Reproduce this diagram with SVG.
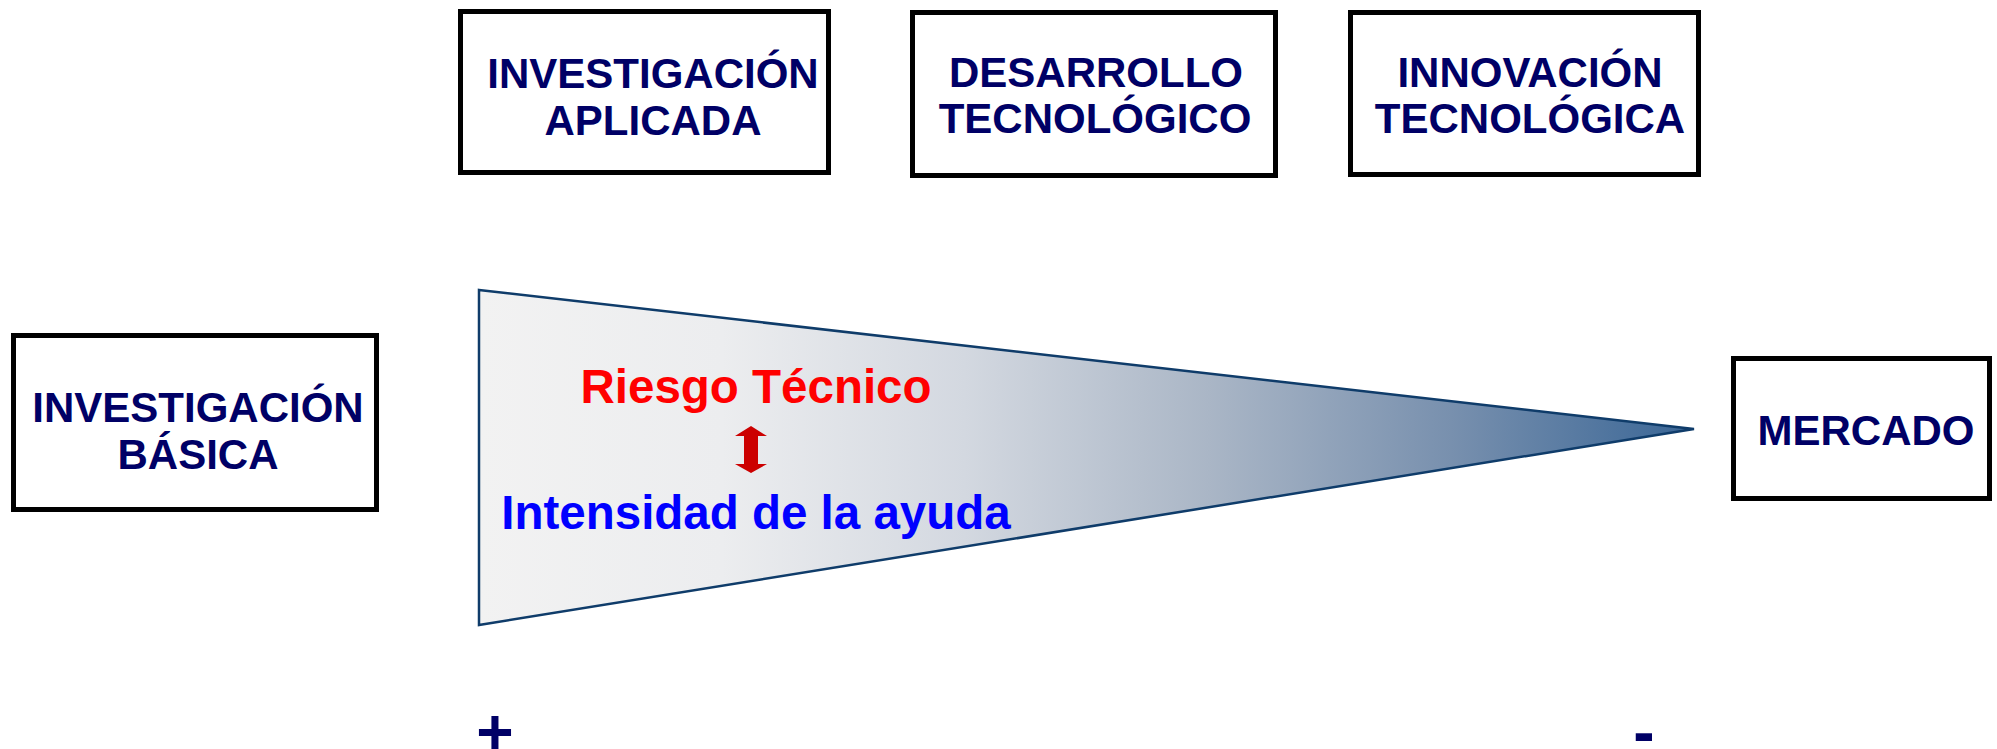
<svg xmlns="http://www.w3.org/2000/svg" width="1997" height="749" viewBox="0 0 1997 749">
  <style>
    .box { fill: #FFFFFF; stroke: #000000; stroke-width: 5; }
    .lbl { font-family: "Liberation Sans", Arial, sans-serif; font-weight: bold; font-size: 42px; fill: #000066; text-anchor: middle; }
    .big { font-family: "Liberation Sans", Arial, sans-serif; font-weight: bold; font-size: 47.5px; text-anchor: middle; }
    .sign { font-family: "Liberation Sans", Arial, sans-serif; font-weight: bold; font-size: 64px; fill: #000066; text-anchor: middle; }
  </style>
  <defs>
    <linearGradient id="fade" gradientUnits="userSpaceOnUse" x1="479" y1="0" x2="1694" y2="0">
      <stop offset="0" stop-color="#F2F2F2"/>
      <stop offset="0.2" stop-color="#ECEDEF"/>
      <stop offset="0.4" stop-color="#D3D8E0"/>
      <stop offset="0.6" stop-color="#AAB6C6"/>
      <stop offset="0.8" stop-color="#7890AE"/>
      <stop offset="1" stop-color="#3A6696"/>
    </linearGradient>
  </defs>
  <rect width="1997" height="749" fill="#FFFFFF"/>

  <g id="wedge">
    <polygon points="479,290 1694,429 479,625" fill="url(#fade)" stroke="#0F3C6A" stroke-width="2.5" stroke-linejoin="miter"/>
    <text class="big" x="756" y="403" fill="#FF0000">Riesgo Técnico</text>
    <text class="big" x="756" y="529" fill="#0000FF">Intensidad de la ayuda</text>
  </g>

  <g id="connectors">
    <polygon points="751,426 767,436 758,436 758,464 767,464 751,473 735,464 744,464 744,436 735,436" fill="#CC0000"/>
  </g>

  <g id="node-investigacion-basica">
    <rect class="box" x="13.5" y="335.5" width="363" height="174"/>
    <text class="lbl" x="198" y="422">INVESTIGACIÓN</text>
    <text class="lbl" x="198" y="469">BÁSICA</text>
  </g>

  <g id="node-investigacion-aplicada">
    <rect class="box" x="460.5" y="11.5" width="368" height="161"/>
    <text class="lbl" x="653" y="88">INVESTIGACIÓN</text>
    <text class="lbl" x="653" y="135">APLICADA</text>
  </g>

  <g id="node-desarrollo-tecnologico">
    <rect class="box" x="912.5" y="12.5" width="363" height="163"/>
    <text class="lbl" x="1096" y="87">DESARROLLO</text>
    <text class="lbl" x="1095" y="133">TECNOLÓGICO</text>
  </g>

  <g id="node-innovacion-tecnologica">
    <rect class="box" x="1350.5" y="12.5" width="348" height="162"/>
    <text class="lbl" x="1530" y="87">INNOVACIÓN</text>
    <text class="lbl" x="1530" y="133">TECNOLÓGICA</text>
  </g>

  <g id="node-mercado">
    <rect class="box" x="1733.5" y="358.5" width="256" height="140"/>
    <text class="lbl" x="1866" y="445">MERCADO</text>
  </g>

  <g id="scale">
    <text class="sign" x="495" y="754">+</text>
    <text class="sign" x="1644" y="754">-</text>
  </g>
</svg>
